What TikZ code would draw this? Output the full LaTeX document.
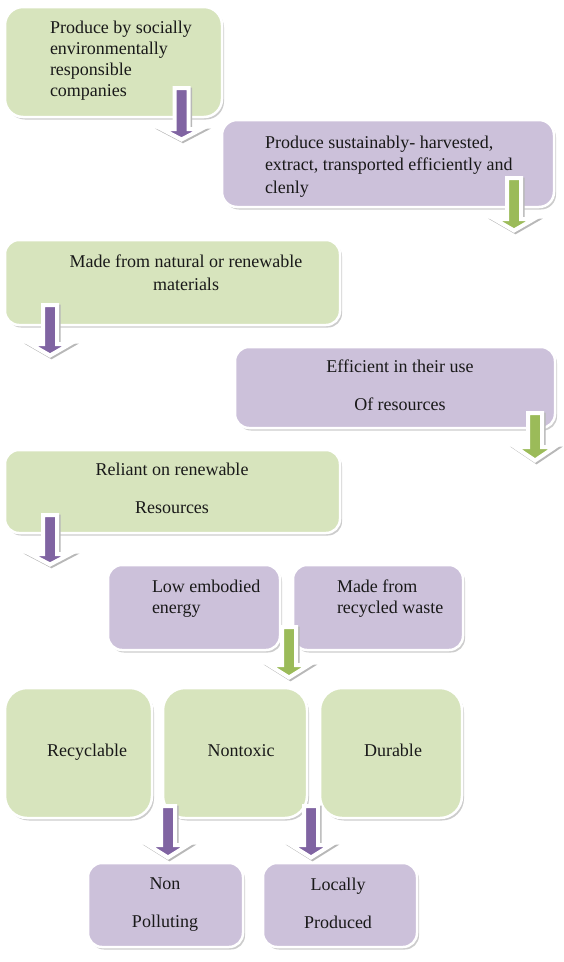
\documentclass[tikz,border=0pt]{standalone}
\usepackage{fontspec}
\setmainfont{Liberation Serif}
\usetikzlibrary{shadows}
\definecolor{gfill}{HTML}{D7E4BD}
\definecolor{pfill}{HTML}{CCC1DA}
\definecolor{parrow}{HTML}{8064A2}
\definecolor{garrow}{HTML}{9BBB59}
% block arrow pointing down: x, y top, y head top (outer), y tip (outer), colour
\newcommand\blockdown[5]{%
  \draw[black!28, fill=black!28, line width=4pt, line join=miter, shift={(1.5pt,-1.5pt)}]
    ({#1-7},#2) -- ({#1+7},#2) -- ({#1+7},{#3+2}) -- ({#1+20},{#3+2}) -- (#1,{#4-2.5})
    -- ({#1-20},{#3+2}) -- ({#1-7},{#3+2}) -- cycle;
  \draw[white, fill=#5, line width=4pt, line join=miter]
    ({#1-7},#2) -- ({#1+7},#2) -- ({#1+7},{#3+2}) -- ({#1+20},{#3+2}) -- (#1,{#4-2.5})
    -- ({#1-20},{#3+2}) -- ({#1-7},{#3+2}) -- cycle;}
\tikzset{
  box/.style={rectangle, draw=white, line width=2.5pt, anchor=north west,
    inner sep=0pt, outer sep=0pt,
    drop shadow={shadow xshift=2pt, shadow yshift=-2.5pt, fill=black!40}},
  gbox/.style={box, fill=gfill},
  pbox/.style={box, fill=pfill},
  txt/.style={inner sep=0pt, outer sep=0pt, text=black!90},
}
\begin{document}
\begin{tikzpicture}[x=1pt, y=-1pt]
\useasboundingbox (0,0) rectangle (564,962);
% boxes
\node[gbox, rounded corners=18pt, minimum width=217pt, minimum height=110pt] (b1) at (5,7) {};
\node[pbox, rounded corners=15pt, minimum width=332pt, minimum height=87pt] (b2) at (222,120) {};
\node[gbox, rounded corners=14pt, minimum width=335pt, minimum height=85pt] (b3) at (5,240) {};
\node[pbox, rounded corners=14pt, minimum width=320pt, minimum height=81pt] (b4) at (235,347) {};
\node[gbox, rounded corners=14pt, minimum width=335pt, minimum height=83pt] (b5) at (5,450) {};
\node[pbox, rounded corners=14pt, minimum width=172pt, minimum height=85pt] (b6) at (108,565) {};
\node[pbox, rounded corners=14pt, minimum width=170pt, minimum height=85pt] (b7) at (293,565) {};
\node[gbox, rounded corners=22pt, minimum width=147pt, minimum height=130pt] (b8) at (5,688) {};
\node[gbox, rounded corners=22pt, minimum width=144pt, minimum height=130pt] (b9) at (163,688) {};
\node[gbox, rounded corners=22pt, minimum width=142pt, minimum height=130pt] (b10) at (320,688) {};
\node[pbox, rounded corners=14pt, minimum width=155pt, minimum height=84pt] (b11) at (88,863) {};
\node[pbox, rounded corners=14pt, minimum width=154pt, minimum height=84pt] (b12) at (263,863) {};
% texts
\node[txt, anchor=north west, align=left, font=\fontsize{18}{21}\selectfont] (t1) at (50,20.7)
  {Produce by socially\\environmentally\\responsible\\companies};
\node[txt, anchor=north west, align=left, font=\fontsize{18}{22.5}\selectfont] (t2) at (265,135.7)
  {Produce sustainably- harvested,\\extract, transported efficiently and\\clenly};
\node[txt, anchor=north, align=center, font=\fontsize{18}{23}\selectfont] (t3) at (186,254.7)
  {Made from natural or renewable\\materials};
\node[txt, anchor=north, align=center, font=\fontsize{18}{38}\selectfont] (t4) at (400,359.7)
  {Efficient in their use\\Of resources};
\node[txt, anchor=north, align=center, font=\fontsize{18}{38}\selectfont] (t5) at (172,462.7)
  {Reliant on renewable\\Resources};
\node[txt, anchor=north west, align=left, font=\fontsize{18}{21}\selectfont] (t6) at (152,579.7)
  {Low embodied\\energy};
\node[txt, anchor=north west, align=left, font=\fontsize{18}{21}\selectfont] (t7) at (337,579.7)
  {Made from\\recycled waste};
\node[txt, anchor=base, font=\fontsize{18}{21}\selectfont] (t8) at (87,756) {Recyclable};
\node[txt, anchor=base, font=\fontsize{18}{21}\selectfont] (t9) at (241,756) {Nontoxic};
\node[txt, anchor=base, font=\fontsize{18}{21}\selectfont] (t10) at (393,756) {Durable};
\node[txt, anchor=north, align=center, font=\fontsize{18}{38}\selectfont] (t11) at (165,878)
  {Non\\Polluting};
\node[txt, anchor=north, align=center, font=\fontsize{18}{38}\selectfont] (t12) at (338,877.7)
  {Locally\\Produced};
% block arrows
\blockdown{181.5}{88}{127}{142}{parrow}
\blockdown{514}{178}{217}{233}{garrow}
\blockdown{50}{305}{342}{358}{parrow}
\blockdown{535}{413}{445}{463}{garrow}
\blockdown{50}{515}{552}{567}{parrow}
\blockdown{289}{627}{663}{680}{garrow}
\blockdown{168}{806}{843}{860}{parrow}
\blockdown{311}{806}{843}{860}{parrow}
\end{tikzpicture}
\end{document}
